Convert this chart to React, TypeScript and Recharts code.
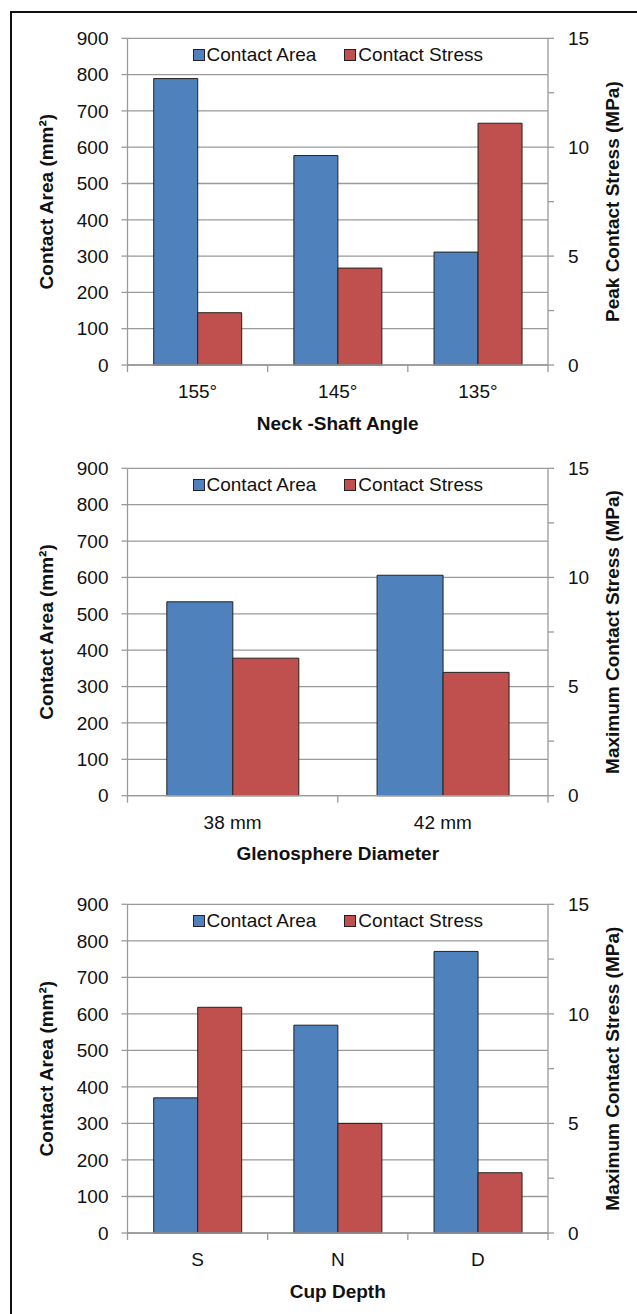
import React from 'react';
import { BarChart, Bar, XAxis, YAxis, CartesianGrid, Legend, Label } from 'recharts';

const FONT = '"Liberation Sans", Arial, sans-serif';
const AREA_COLOR = '#4F81BD';
const STRESS_COLOR = '#C0504D';
const GRID = '#9a9a9a';
const INK = '#111111';

// Neck-shaft angle panel
const neckAngles = ['155°', '145°', '135°'];
const neckArea = [789, 577, 311];
const neckStress = [2.4, 4.45, 11.1];

// Glenosphere diameter panel
const glenoDiameters = ['38 mm', '42 mm'];
const glenoArea = [533, 606];
const glenoStress = [6.3, 5.65];

// Cup depth panel
const cupDepths = ['S', 'N', 'D'];
const cupArea = [370, 569, 771];
const cupStress = [10.3, 5.0, 2.75];

const areaTicks = [0, 100, 200, 300, 400, 500, 600, 700, 800, 900];
const stressTicks = [0, 2.5, 5, 7.5, 10, 12.5, 15];

const toRows = (names: string[], area: number[], stress: number[]) =>
  names.map((name, i) => ({ name, area: area[i], stress: stress[i] }));

// category labels sit at band centres, tick marks at the band edges
const makeCategoryTick = (count: number) => (props: any) => {
  const { x, y, payload, index, width } = props;
  const half = payload?.offset ?? width / count / 2;
  const axisY = y - 20;
  return (
    <g>
      <line x1={x - half} x2={x - half} y1={axisY} y2={axisY + 7} stroke={GRID} strokeWidth={1.3} />
      {index === count - 1 && (
        <line x1={x + half} x2={x + half} y1={axisY} y2={axisY + 7} stroke={GRID} strokeWidth={1.3} />
      )}
      <text x={x} y={y} dy="0.71em" textAnchor="middle" fontSize={19} fill={INK} fontFamily={FONT}>
        {payload.value}
      </text>
    </g>
  );
};

// right axis: minor ticks every 2.5, labels only every 5
const StressTick = (props: any) => {
  const { x, y, payload } = props;
  if (payload.value % 5 !== 0) return <g />;
  return (
    <text x={x} y={y} dy="0.355em" textAnchor="start" fontSize={19} fill={INK} fontFamily={FONT}>
      {payload.value}
    </text>
  );
};

const LegendBox = (props: any) => {
  const items = props.payload || [];
  return (
    <div
      style={{
        display: 'flex',
        justifyContent: 'center',
        alignItems: 'center',
        height: 22,
        fontFamily: FONT,
        fontSize: 19,
        color: INK,
        whiteSpace: 'nowrap',
      }}
    >
      {items.map((item: any, i: number) => (
        <span key={i} style={{ display: 'flex', alignItems: 'center', marginLeft: i > 0 ? 28 : 0 }}>
          <span
            style={{
              display: 'inline-block',
              width: 10,
              height: 10,
              background: item.color,
              border: '1px solid #222',
              marginRight: 2,
            }}
          />
          {item.value}
        </span>
      ))}
    </div>
  );
};

interface PanelProps {
  top: number;
  plotTop: number;
  plotBottom: number;
  rows: { name: string; area: number; stress: number }[];
  xTitle: string;
  rightTitle: string;
}

function Panel({ top, plotTop, plotBottom, rows, xTitle, rightTitle }: PanelProps) {
  const axisHeight = 75;
  const height = plotBottom - top + axisHeight;
  const marginTop = plotTop - top;
  const titleStyle = { fontWeight: 'bold', fontSize: 19, fill: INK, fontFamily: FONT, textAnchor: 'middle' as const };

  return (
    <div style={{ position: 'absolute', left: 0, top }}>
      <BarChart
        width={637}
        height={height}
        data={rows}
        margin={{ top: marginTop, right: 0, bottom: 0, left: 0 }}
        barCategoryGap="18.7%"
        barGap={0}
      >
        <CartesianGrid yAxisId="left" vertical={false} stroke={GRID} strokeWidth={1.3} />
        <XAxis
          dataKey="name"
          height={axisHeight}
          interval={0}
          tickLine={false}
          tickSize={7}
          tickMargin={13}
          axisLine={{ stroke: GRID, strokeWidth: 1.3 }}
          tick={makeCategoryTick(rows.length)}
        >
          <Label value={xTitle} position="insideBottom" offset={10.5} style={titleStyle} />
        </XAxis>
        <YAxis
          yAxisId="left"
          orientation="left"
          width={127.5}
          domain={[0, 900]}
          ticks={areaTicks}
          interval={0}
          tickSize={6}
          tickMargin={13}
          axisLine={{ stroke: GRID, strokeWidth: 1.3 }}
          tickLine={{ stroke: GRID, strokeWidth: 1.3 }}
          tick={{ fontSize: 19, fill: INK, fontFamily: FONT }}
        >
          <Label value="Contact Area (mm²)" angle={-90} position="insideLeft" offset={46} style={titleStyle} />
        </YAxis>
        <YAxis
          yAxisId="right"
          orientation="right"
          width={89}
          domain={[0, 15]}
          ticks={stressTicks}
          interval={0}
          tickSize={6}
          tickMargin={14}
          axisLine={{ stroke: GRID, strokeWidth: 1.3 }}
          tickLine={{ stroke: GRID, strokeWidth: 1.3 }}
          tick={StressTick}
        >
          <Label value={rightTitle} angle={-90} position="insideRight" offset={25} style={titleStyle} />
        </YAxis>
        <Legend
          layout="horizontal"
          verticalAlign="middle"
          align="center"
          content={LegendBox}
          wrapperStyle={{ top: marginTop + 16.7 - 11, left: 127.5, width: 420.5, height: 22 }}
        />
        <Bar
          yAxisId="left"
          dataKey="area"
          name="Contact Area"
          fill={AREA_COLOR}
          stroke="#222"
          strokeWidth={1}
          isAnimationActive={false}
        />
        <Bar
          yAxisId="right"
          dataKey="stress"
          name="Contact Stress"
          fill={STRESS_COLOR}
          stroke="#222"
          strokeWidth={1}
          isAnimationActive={false}
        />
      </BarChart>
    </div>
  );
}

export default function App() {
  return (
    <div
      style={{
        position: 'absolute',
        left: 0,
        top: 0,
        width: 637,
        height: 1314,
        overflow: 'hidden',
        background: '#fff',
      }}
    >
      <div
        style={{
          position: 'absolute',
          left: 10,
          top: 11,
          width: 700,
          height: 1400,
          borderTop: '2px solid #111',
          borderLeft: '2px solid #111',
        }}
      />
      <Panel
        top={0}
        plotTop={38.3}
        plotBottom={365}
        rows={toRows(neckAngles, neckArea, neckStress)}
        xTitle="Neck -Shaft Angle"
        rightTitle="Peak Contact Stress (MPa)"
      />
      <Panel
        top={430}
        plotTop={468.3}
        plotBottom={795.7}
        rows={toRows(glenoDiameters, glenoArea, glenoStress)}
        xTitle="Glenosphere Diameter"
        rightTitle="Maximum Contact Stress (MPa)"
      />
      <Panel
        top={866}
        plotTop={904.3}
        plotBottom={1233}
        rows={toRows(cupDepths, cupArea, cupStress)}
        xTitle="Cup Depth"
        rightTitle="Maximum Contact Stress (MPa)"
      />
    </div>
  );
}
